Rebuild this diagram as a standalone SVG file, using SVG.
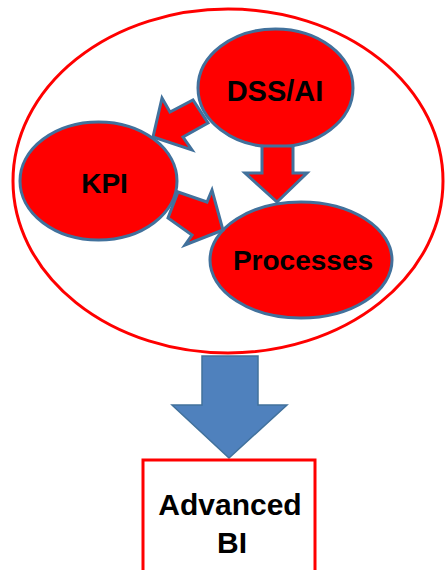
<svg xmlns="http://www.w3.org/2000/svg" width="445" height="570" viewBox="0 0 445 570">
<style>
.node{fill:#FF0000;stroke:#41719C;stroke-width:3}
.arr{fill:#FF0000;stroke:#41719C;stroke-width:3;stroke-linejoin:miter}
.lbl{font-family:"Liberation Sans",Arial,sans-serif;font-weight:bold;font-size:28px;fill:#000;text-anchor:middle}
</style>
<rect width="445" height="570" fill="#fff"/>
<g id="container">
<ellipse cx="228" cy="181" rx="215" ry="172" fill="none" stroke="#FF0000" stroke-width="3"/>
</g>
<g id="dss">
<ellipse class="node" cx="275.5" cy="88" rx="77.5" ry="59"/>
<text class="lbl" x="275" y="101" font-size="29" style="font-size:29px">DSS/AI</text>
</g>
<g id="kpi">
<ellipse class="node" cx="98.5" cy="181" rx="78.5" ry="59"/>
<text class="lbl" x="104.5" y="193">KPI</text>
</g>
<g id="processes">
<ellipse class="node" cx="301" cy="260" rx="91" ry="58"/>
<text class="lbl" x="303" y="270">Processes</text>
</g>
<g id="connectors">
<polygon class="arr" points="153,137 162,98 170,112 193,100 208,123 183,137 192,150"/>
<polygon class="arr" points="262,146 293,146 293,173 307,173 277,202 245,173 262,173"/>
<polygon class="arr" points="178,192 207,202 212,190 223,230 185,245 192,235 168,218"/>
<polygon points="202,356 258,356 258,405 287,405 229,458 172,405 202,405" fill="#4F81BD" stroke="#41719C" stroke-width="1.5"/>
</g>
<g id="advanced-bi">
<rect x="143" y="460" width="172" height="120" fill="#fff" stroke="#FF0000" stroke-width="3"/>
<text class="lbl" x="230" y="515" style="font-size:30px">Advanced</text>
<text class="lbl" x="232" y="553" style="font-size:30px">BI</text>
</g>
</svg>
